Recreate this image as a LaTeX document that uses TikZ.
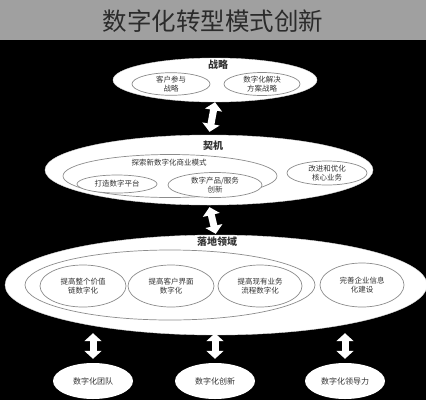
\documentclass[tikz,border=0pt]{standalone}
\usepackage{fontspec}
\setmainfont{Noto Sans CJK SC}
\usetikzlibrary{shapes.geometric,arrows.meta}
\definecolor{band}{HTML}{A0A0A0}
\definecolor{txt}{HTML}{333333}
\definecolor{rim}{HTML}{8C8C8C}
\tikzset{
  bigell/.style={ellipse,fill=white,draw=white!85!black,line width=0.4pt,inner sep=0pt},
  inell/.style={ellipse,fill=white,draw=rim,line width=0.7pt,inner sep=0pt,align=center,
    font=\fontsize{7.5}{9}\selectfont,text=txt},
  hdr/.style={font=\fontsize{10}{11}\selectfont\bfseries,text=txt,inner sep=0pt},
  lbl/.style={font=\fontsize{7.5}{9}\selectfont,text=txt,inner sep=0pt},
  botell/.style={ellipse,fill=white,draw=none,inner sep=0pt,font=\fontsize{8}{9}\selectfont,text=txt},
  dbl/.style={draw=white,line width=7pt,{Triangle[width=17pt,length=8pt]}-{Triangle[width=17pt,length=8pt]}}
}
\begin{document}
\begin{tikzpicture}[x=1pt,y=-1pt]
\useasboundingbox (0,0) rectangle (426,400);
\fill[black] (0,0) rectangle (426,400);
\fill[band] (0,0) rectangle (426,40);
\node[font=\fontsize{24.5}{26}\selectfont,text=txt!85!black,inner sep=0pt] (title) at (213,21) {数字化转型模式创新};

% level 1
\node[bigell,minimum width=204pt,minimum height=44pt] (s1) at (215,80) {};
\node[inell,minimum width=78pt,minimum height=22pt] (a1) at (171,84) {客户参与\\战略};
\node[inell,minimum width=76pt,minimum height=23pt] (a2) at (262,84) {数字化解决\\方案战略};

% level 2
\node[bigell,minimum width=328pt,minimum height=70pt] (s2) at (209,170) {};
\node[inell,minimum width=214pt,minimum height=43pt] (e2) at (170,176) {};
\node[lbl] (t2) at (169,163) {探索新数字化商业模式};
\node[inell,minimum width=80pt,minimum height=18pt] (b1) at (117,184) {打造数字平台};
\node[inell,minimum width=94pt,minimum height=25pt] (b2) at (215,185) {数字产品/服务\\创新};
\node[inell,minimum width=80pt,minimum height=24pt] (b3) at (327,173) {改进和优化\\核心业务};

% level 3
\node[bigell,minimum width=422pt,minimum height=100pt] (s3) at (216,285) {};
\node[inell,minimum width=290pt,minimum height=70pt] (e3) at (170,285) {};
\node[inell,minimum width=86pt,minimum height=42pt] (c1) at (83,286) {提高整个价值\\链数字化};
\node[inell,minimum width=86pt,minimum height=42pt] (c2) at (171,286) {提高客户界面\\数字化};
\node[inell,minimum width=84pt,minimum height=42pt] (c3) at (260,286) {提高现有业务\\流程数字化};
\node[inell,minimum width=84pt,minimum height=44pt] (c4) at (362,285) {完善企业信息\\化建设};

% bottom
\node[botell,minimum width=80pt,minimum height=36pt] (d1) at (93,381) {数字化团队};
\node[botell,minimum width=80pt,minimum height=36pt] (d2) at (215,381) {数字化创新};
\node[botell,minimum width=80pt,minimum height=36pt] (d3) at (345,381) {数字化领导力};

% arrows
\draw[dbl,shorten <=0pt,shorten >=3pt] (s1.south) -- (s2.north);
\draw[dbl,shorten <=2pt,shorten >=1pt] (s2.south) -- (s3.north);
\draw[dbl,shorten <=-2pt,shorten >=4pt] (d1.north |- s3.south) -- (d1.north);
\draw[dbl,shorten <=-2pt,shorten >=4pt] (d2.north |- s3.south) -- (d2.north);
\draw[dbl,shorten <=-2pt,shorten >=4pt] (d3.north |- s3.south) -- (d3.north);

% headers on top
\node[hdr] (h1) at (218,65) {战略};
\node[hdr] (h2) at (213,146) {契机};
\node[hdr] (h3) at (217,242) {落地领域};
\end{tikzpicture}
\end{document}
